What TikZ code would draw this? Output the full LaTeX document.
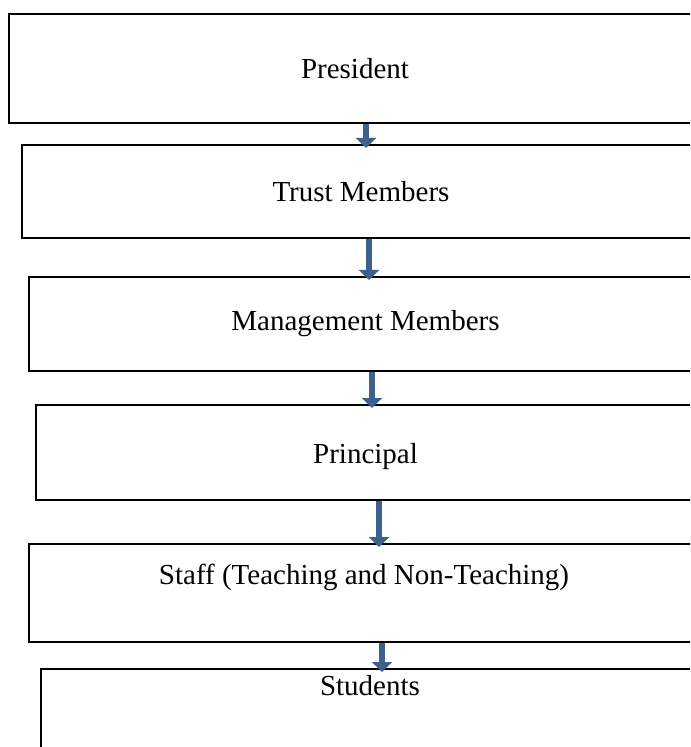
\documentclass[tikz,border=0pt]{standalone}
\usepackage{fontspec}
\setmainfont{Liberation Serif}
\usepackage{xcolor}
\usetikzlibrary{arrows.meta,positioning,calc}

\definecolor{arrowblue}{RGB}{61,96,143}

\begin{document}
\begin{tikzpicture}[
  x=0.5pt, y=-0.5pt,
  font=\fontsize{14.5}{16}\selectfont,
  level/.style={draw, line width=1pt, align=center, inner sep=0pt, fill=white},
  arrow/.style={-{Triangle[width=10pt 0, length=5pt 0]}, line width=3pt, draw=arrowblue, fill=arrowblue, shorten >=-2pt}
]
\useasboundingbox (0,0) rectangle (690,747);
\clip (0,0) rectangle (690,747);
\fill[white] (0,0) rectangle (690,747);

\node[level, minimum width=346pt, minimum height=54.5pt] (president) at (355,68.5) {President};
\node[level, minimum width=339pt, minimum height=46.5pt] (trust) at (361,191.5) {Trust Members};
\node[level, minimum width=336.5pt, minimum height=47pt] (management) at (365.5,324) {Management Members};
\node[level, minimum width=329.5pt, minimum height=47.5pt, text height=14pt] (principal) at (365.5,452.5) {Principal};
\node[level, minimum width=335pt, minimum height=49pt, text depth=19pt] (staff) at (364,593) {Staff (Teaching and Non-Teaching)};
\node[level, minimum width=329pt, minimum height=48pt, text depth=32pt] (students) at (370,717) {Students};

\draw[arrow] (president.south -| 366,0) -- (trust.north -| 366,0);
\draw[arrow] (trust.south -| 369,0) -- (management.north -| 369,0);
\draw[arrow] (management.south -| 372,0) -- (principal.north -| 372,0);
\draw[arrow] (principal.south -| 379,0) -- (staff.north -| 379,0);
\draw[arrow] (staff.south -| 382,0) -- (students.north -| 382,0);
\end{tikzpicture}
\end{document}
